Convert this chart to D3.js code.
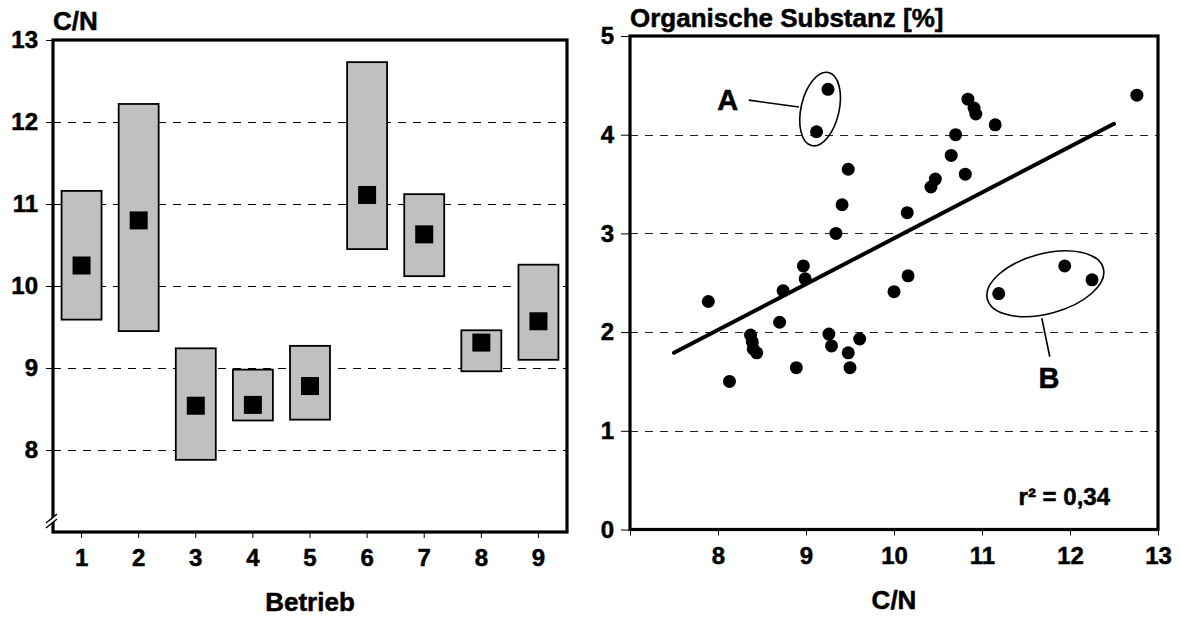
<!DOCTYPE html>
<html>
<head>
<meta charset="utf-8">
<script src="https://cdn.jsdelivr.net/npm/d3@7"></script>
<style>
    body { margin: 0; background: #fff; }
    svg text { font-family: "Liberation Sans", Arial, sans-serif; font-weight: bold; fill: #000; stroke: #000; stroke-width: 0.5px; }
</style>
</head>
<body>
<div id="graph"></div>
<script>
// left panel: C/N range per farm (min, max, mean)
var betriebe = [1, 2, 3, 4, 5, 6, 7, 8, 9];
var cnMin = [9.59, 9.45, 7.88, 8.36, 8.37, 10.45, 10.12, 8.96, 9.10];
var cnMax = [11.16, 12.22, 9.24, 8.98, 9.27, 12.73, 11.12, 9.46, 10.26];
var cnMean = [10.25, 10.80, 8.54, 8.55, 8.78, 11.11, 10.63, 9.31, 9.57];
var leftTicks = [8, 9, 10, 11, 12, 13];

// right panel: C/N vs organic matter
var cnValues = [9.25, 9.12, 9.48, 9.41, 9.34, 8.97, 8.99, 8.74, 7.89, 8.70,
    8.37, 8.39, 8.40, 8.44, 8.13, 8.89, 9.26, 9.29, 9.48, 9.50,
    9.61, 12.76, 10.84, 10.91, 10.93, 11.15, 10.70, 10.65, 10.81, 10.47,
    10.42, 10.15, 10.16, 10.00, 11.19, 11.94, 12.25];
var osValues = [4.46, 4.03, 3.65, 3.29, 3.00, 2.67, 2.54, 2.42, 2.31, 2.10,
    1.97, 1.90, 1.83, 1.79, 1.50, 1.64, 1.98, 1.86, 1.79, 1.64,
    1.93, 4.40, 4.36, 4.27, 4.21, 4.10, 4.00, 3.79, 3.60, 3.55,
    3.47, 3.21, 2.57, 2.41, 2.39, 2.67, 2.53];
var trendX = [7.5, 12.5];
var trendY = [1.79, 4.11];
var rightXTicks = [7, 8, 9, 10, 11, 12, 13];
var rightYTicks = [0, 1, 2, 3, 4, 5];
var rSquared = "r² = 0,34";

let svgWidth = 1180;
let svgHeight = 617;
let tickFont = 24;
let titleFont = 26;
let dash = "8,7";

let svg = d3.select("#graph")
    .append("svg")
    .attr("width", svgWidth)
    .attr("height", svgHeight);

drawLeft();
drawRight();

function crisp(v) {
    return Math.round(v) + 0.5;
}

function drawLeft() {
    let xScale = d3.scaleBand()
        .domain(betriebe)
        .range([53, 567]);
    let yScale = d3.scaleLinear()
        .domain([7, 13])
        .range([532, 40]);

    let g = svg.append("g");

    // dashed grid
    g.selectAll("line.grid")
        .data(leftTicks.slice(0, -1))
        .enter()
        .append("line")
        .attr("class", "grid")
        .attr("x1", 53).attr("x2", 567)
        .attr("y1", (d) => crisp(yScale(d))).attr("y2", (d) => crisp(yScale(d)))
        .attr("stroke", "#000")
        .attr("stroke-width", 1)
        .attr("stroke-dasharray", dash);

    let boxW = xScale.bandwidth() * 0.7;

    // range boxes
    g.selectAll("rect.box")
        .data(betriebe)
        .enter()
        .append("rect")
        .attr("class", "box")
        .attr("x", (d) => xScale(d) + (xScale.bandwidth() - boxW) / 2)
        .attr("y", (d, i) => yScale(cnMax[i]))
        .attr("width", boxW)
        .attr("height", (d, i) => yScale(cnMin[i]) - yScale(cnMax[i]))
        .attr("fill", "#c0c0c0")
        .attr("stroke", "#000")
        .attr("stroke-width", 1.8);

    // mean markers
    g.selectAll("rect.mean")
        .data(betriebe)
        .enter()
        .append("rect")
        .attr("class", "mean")
        .attr("x", (d) => xScale(d) + xScale.bandwidth() / 2 - 9)
        .attr("y", (d, i) => yScale(cnMean[i]) - 9)
        .attr("width", 18)
        .attr("height", 18)
        .attr("fill", "#000");

    // frame
    g.append("rect")
        .attr("x", 53).attr("y", 40)
        .attr("width", 514).attr("height", 492)
        .attr("fill", "none")
        .attr("stroke", "#000")
        .attr("stroke-width", 3.2);

    // axes
    let yAxis = d3.axisLeft(yScale)
        .tickValues(leftTicks)
        .tickFormat(d3.format("d"))
        .tickSize(7)
        .tickPadding(8);
    let ya = g.append("g")
        .attr("transform", "translate(53,0)")
        .call(yAxis);
    ya.select(".domain").remove();

    let xAxis = d3.axisBottom(xScale)
        .tickSize(6)
        .tickPadding(11);
    let xa = g.append("g")
        .attr("transform", "translate(0,532)")
        .call(xAxis);
    xa.select(".domain").remove();

    [ya, xa].forEach((a) => {
        a.selectAll("text").attr("font-size", tickFont + "px").attr("font-family", null);
        a.selectAll("line").attr("stroke", "#000").attr("stroke-width", 1);
    });

    // axis break
    g.append("polygon")
        .attr("points", "46,524 57,515 57,519 46,528")
        .attr("fill", "#fff");
    g.append("line")
        .attr("x1", 46).attr("y1", 523).attr("x2", 57).attr("y2", 514)
        .attr("stroke", "#000").attr("stroke-width", 1.5);
    g.append("line")
        .attr("x1", 46).attr("y1", 528).attr("x2", 57).attr("y2", 519)
        .attr("stroke", "#000").attr("stroke-width", 1.5);

    // titles
    g.append("text")
        .attr("x", 53).attr("y", 30)
        .attr("font-size", titleFont + "px")
        .text("C/N");
    g.append("text")
        .attr("x", 310).attr("y", 611)
        .attr("text-anchor", "middle")
        .attr("font-size", titleFont + "px")
        .text("Betrieb");
}

function drawRight() {
    let xScale = d3.scaleLinear()
        .domain([7, 13])
        .range([630, 1158]);
    let yScale = d3.scaleLinear()
        .domain([0, 5])
        .range([529.5, 36]);

    let g = svg.append("g");

    g.selectAll("line.grid")
        .data(rightYTicks.slice(1, -1))
        .enter()
        .append("line")
        .attr("class", "grid")
        .attr("x1", 630).attr("x2", 1158)
        .attr("y1", (d) => crisp(yScale(d))).attr("y2", (d) => crisp(yScale(d)))
        .attr("stroke", "#222")
        .attr("stroke-width", 1)
        .attr("stroke-dasharray", dash);

    // regression line
    g.append("line")
        .attr("x1", xScale(trendX[0])).attr("y1", yScale(trendY[0]))
        .attr("x2", xScale(trendX[1])).attr("y2", yScale(trendY[1]))
        .attr("stroke", "#000")
        .attr("stroke-width", 4)
        .attr("stroke-linecap", "round");

    // points
    g.selectAll("circle.pt")
        .data(cnValues)
        .enter()
        .append("circle")
        .attr("class", "pt")
        .attr("cx", (d) => xScale(d))
        .attr("cy", (d, i) => yScale(osValues[i]))
        .attr("r", 6.5)
        .attr("fill", "#000");

    // group A / B annotations
    g.append("ellipse")
        .attr("transform", "translate(" + xScale(9.16) + "," + yScale(4.26) + ") rotate(13)")
        .attr("rx", 19).attr("ry", 37.5)
        .attr("fill", "none").attr("stroke", "#000").attr("stroke-width", 1.6);
    g.append("line")
        .attr("x1", xScale(8.35)).attr("y1", yScale(4.35))
        .attr("x2", xScale(8.92)).attr("y2", yScale(4.28))
        .attr("stroke", "#000").attr("stroke-width", 1.6);
    g.append("text")
        .attr("x", xScale(8.11)).attr("y", yScale(4.35) + 10)
        .attr("text-anchor", "middle")
        .attr("font-size", "29px")
        .text("A");

    g.append("ellipse")
        .attr("transform", "translate(" + xScale(11.72) + "," + yScale(2.49) + ") rotate(-15)")
        .attr("rx", 60).attr("ry", 30)
        .attr("fill", "none").attr("stroke", "#000").attr("stroke-width", 1.6);
    g.append("line")
        .attr("x1", xScale(11.68)).attr("y1", yScale(2.14))
        .attr("x2", xScale(11.77)).attr("y2", yScale(1.75))
        .attr("stroke", "#000").attr("stroke-width", 1.6);
    g.append("text")
        .attr("x", xScale(11.76)).attr("y", yScale(1.54) + 10)
        .attr("text-anchor", "middle")
        .attr("font-size", "29px")
        .text("B");

    g.append("text")
        .attr("x", 1110).attr("y", 505)
        .attr("text-anchor", "end")
        .attr("font-size", tickFont + "px")
        .text(rSquared);

    // frame
    g.append("rect")
        .attr("x", 630).attr("y", 36)
        .attr("width", 528).attr("height", 493.5)
        .attr("fill", "none")
        .attr("stroke", "#000")
        .attr("stroke-width", 3.2);

    let yAxis = d3.axisLeft(yScale)
        .tickValues(rightYTicks)
        .tickFormat(d3.format("d"))
        .tickSize(9)
        .tickPadding(7);
    let ya = g.append("g")
        .attr("transform", "translate(630,0)")
        .call(yAxis);
    ya.select(".domain").remove();

    let xAxis = d3.axisBottom(xScale)
        .tickValues(rightXTicks)
        .tickFormat((d) => d === 7 ? "" : d)
        .tickSize(6)
        .tickPadding(11);
    let xa = g.append("g")
        .attr("transform", "translate(0,529.5)")
        .call(xAxis);
    xa.select(".domain").remove();

    [ya, xa].forEach((a) => {
        a.selectAll("text").attr("font-size", tickFont + "px").attr("font-family", null);
        a.selectAll("line").attr("stroke", "#000").attr("stroke-width", 1);
    });

    g.append("text")
        .attr("x", 630).attr("y", 27)
        .attr("font-size", titleFont + "px")
        .text("Organische Substanz [%]");
    g.append("text")
        .attr("x", 894).attr("y", 609)
        .attr("text-anchor", "middle")
        .attr("font-size", titleFont + "px")
        .text("C/N");
}
</script>
</body>
</html>
